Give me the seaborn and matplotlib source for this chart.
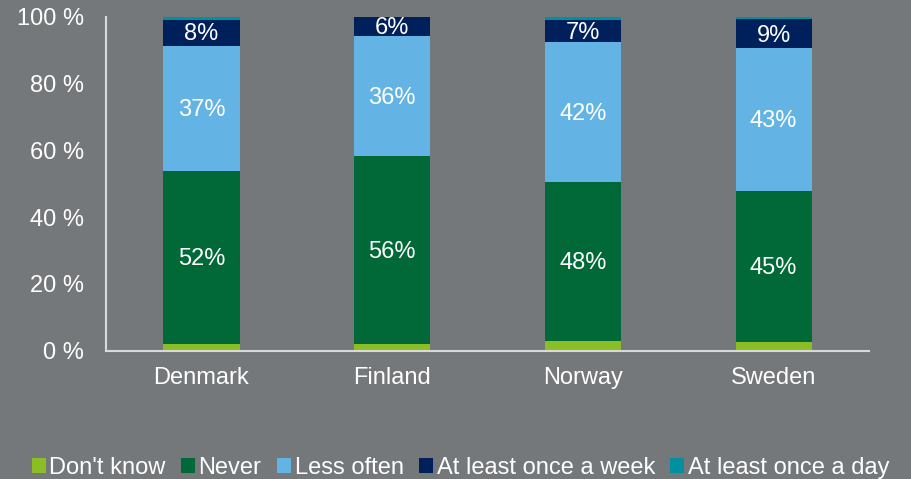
import matplotlib
matplotlib.use("Agg")
import matplotlib.pyplot as plt
from matplotlib.patches import Patch
import pandas as pd
import seaborn as sns

# Data (percent of respondents)
countries = ["Denmark", "Finland", "Norway", "Sweden"]
categories = ["Don't know", "Never", "Less often", "At least once a week", "At least once a day"]
dont_know = [1.9, 1.9, 2.8, 2.6]
never = [52.0, 56.5, 47.8, 45.3]
less_often = [37.4, 35.7, 41.7, 42.6]
once_a_week = [7.8, 5.9, 6.6, 8.7]
once_a_day = [0.9, 0.0, 1.1, 0.8]
labelled = ["Never", "Less often", "At least once a week"]

colors = ["#8BBD25", "#006937", "#63B4E4", "#00205B", "#0090A0"]
bg = "#75787B"

df = pd.DataFrame({
    "country": countries,
    "Don't know": dont_know,
    "Never": never,
    "Less often": less_often,
    "At least once a week": once_a_week,
    "At least once a day": once_a_day,
})

# cumulative tops for stacking
running = pd.Series([0.0] * len(countries))
for cat in categories:
    running = running + df[cat]
    df[cat + "_top"] = running

sns.set_style("white")
plt.rcParams["font.family"] = ["Liberation Sans", "DejaVu Sans"]

fig = plt.figure(figsize=(9.12, 4.79), dpi=100, facecolor=bg)
ax = fig.add_axes([0.1162, 0.268, 0.8367, 0.697])
ax.set_facecolor(bg)

# draw the tallest stack first so the lower segments sit on top
for cat, col in reversed(list(zip(categories, colors))):
    sns.barplot(data=df, x="country", y=cat + "_top", color=col, width=0.4,
                saturation=1, ax=ax, linewidth=0)

# segment labels
cum = pd.Series([0.0] * len(countries))
for cat in categories:
    vals = df[cat]
    if cat in labelled:
        for i, v in enumerate(vals):
            ax.text(i, cum[i] + v / 2 - 0.5, f"{round(v)}%", ha="center", va="center",
                    color="white", fontsize=17)
    cum = cum + vals

ax.set_ylim(0, 100)
ax.set_xlim(-0.5, 3.5)
ax.set_yticks(range(0, 101, 20))
ax.set_yticklabels([f"{t} %" for t in range(0, 101, 20)])
ax.set_xlabel("")
ax.set_ylabel("")
ax.tick_params(axis="both", colors="white", labelsize=17, length=0)
ax.tick_params(axis="y", pad=16)
ax.tick_params(axis="x", pad=12)
for s in ["top", "right"]:
    ax.spines[s].set_visible(False)
for s in ["left", "bottom"]:
    ax.spines[s].set_color("#D9D9D9")
    ax.spines[s].set_linewidth(1.5)

handles = [Patch(facecolor=c, edgecolor="none") for c in colors]
fig.legend(handles, categories, loc="lower center", bbox_to_anchor=(0.505, -0.045),
           ncol=5, frameon=False, fontsize=17, labelcolor="white",
           handlelength=0.6, handleheight=0.6, handletextpad=0.15, columnspacing=0.65)

fig.savefig("out.png", dpi=100, facecolor=bg)
